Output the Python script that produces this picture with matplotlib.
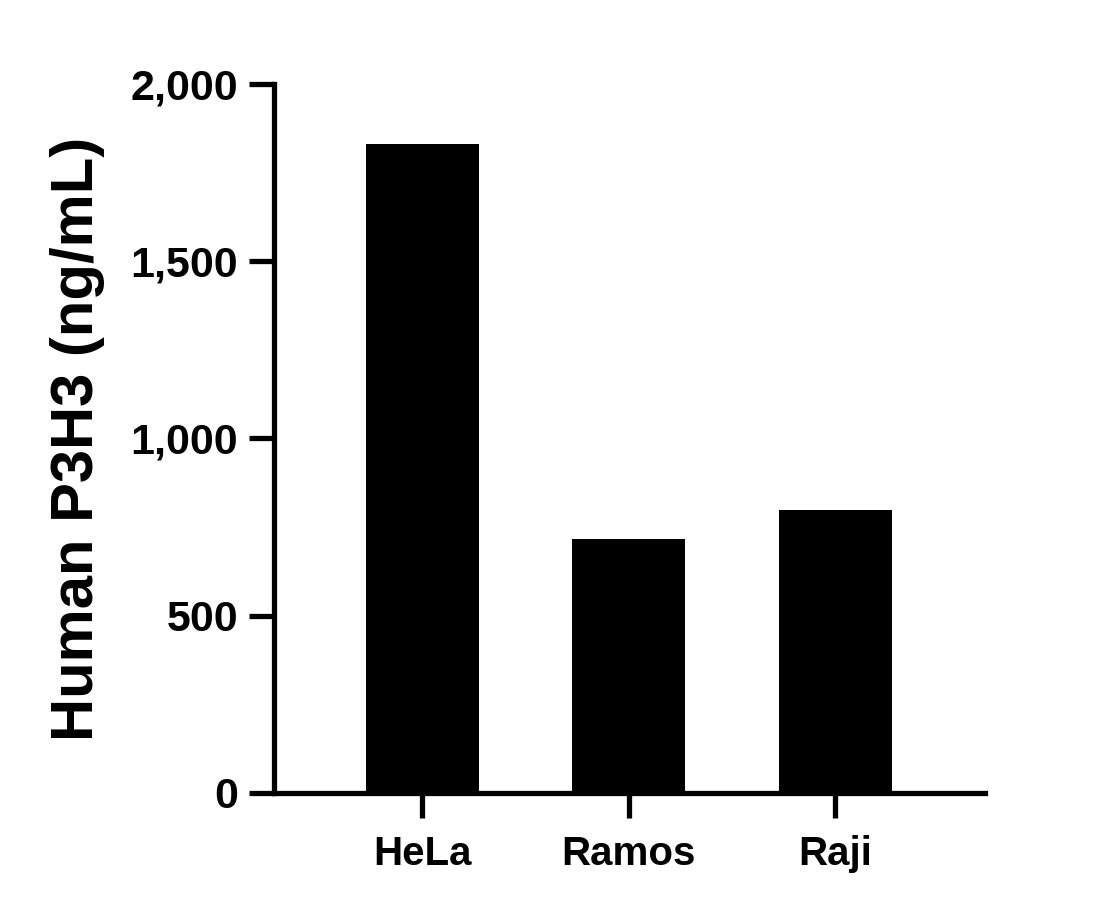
import matplotlib
matplotlib.use('Agg')
import matplotlib.pyplot as plt
from matplotlib.ticker import FuncFormatter

# data
cell_lines = ['HeLa', 'Ramos', 'Raji']
p3h3_ng_ml = [1831, 717, 798]
y_ticks = [0, 500, 1000, 1500, 2000]

plt.rcParams['font.family'] = ['Liberation Sans', 'DejaVu Sans']
plt.rcParams['font.weight'] = 'bold'

fig = plt.figure(figsize=(11.17, 9.10), dpi=100)
ax = fig.add_axes([0.2453, 0.1286, 0.6365, 0.7791])

x = list(range(len(cell_lines)))
ax.bar(x, p3h3_ng_ml, width=0.547, color='black', edgecolor='none', zorder=1)

ax.set_xlim(-0.717, 2.726)
ax.set_ylim(0, 2000)
ax.set_xticks(x)
ax.set_xticklabels(cell_lines, fontsize=29, fontweight='bold')
ax.set_yticks(y_ticks)
ax.yaxis.set_major_formatter(FuncFormatter(lambda v, p: f'{int(v):,}'))
for lbl in ax.get_yticklabels():
    lbl.set_fontsize(31)
    lbl.set_fontweight('bold')

ax.set_ylabel('Human P3H3 (ng/mL)', fontsize=43, fontweight='bold', labelpad=18)

for side in ['top', 'right']:
    ax.spines[side].set_visible(False)
for side in ['left', 'bottom']:
    ax.spines[side].set_linewidth(3.8)
    ax.spines[side].set_zorder(3)
ax.tick_params(axis='both', length=18, width=3.8, color='black')
ax.tick_params(axis='y', pad=8)
ax.tick_params(axis='x', pad=12)

fig.savefig('out.png', dpi=100)
